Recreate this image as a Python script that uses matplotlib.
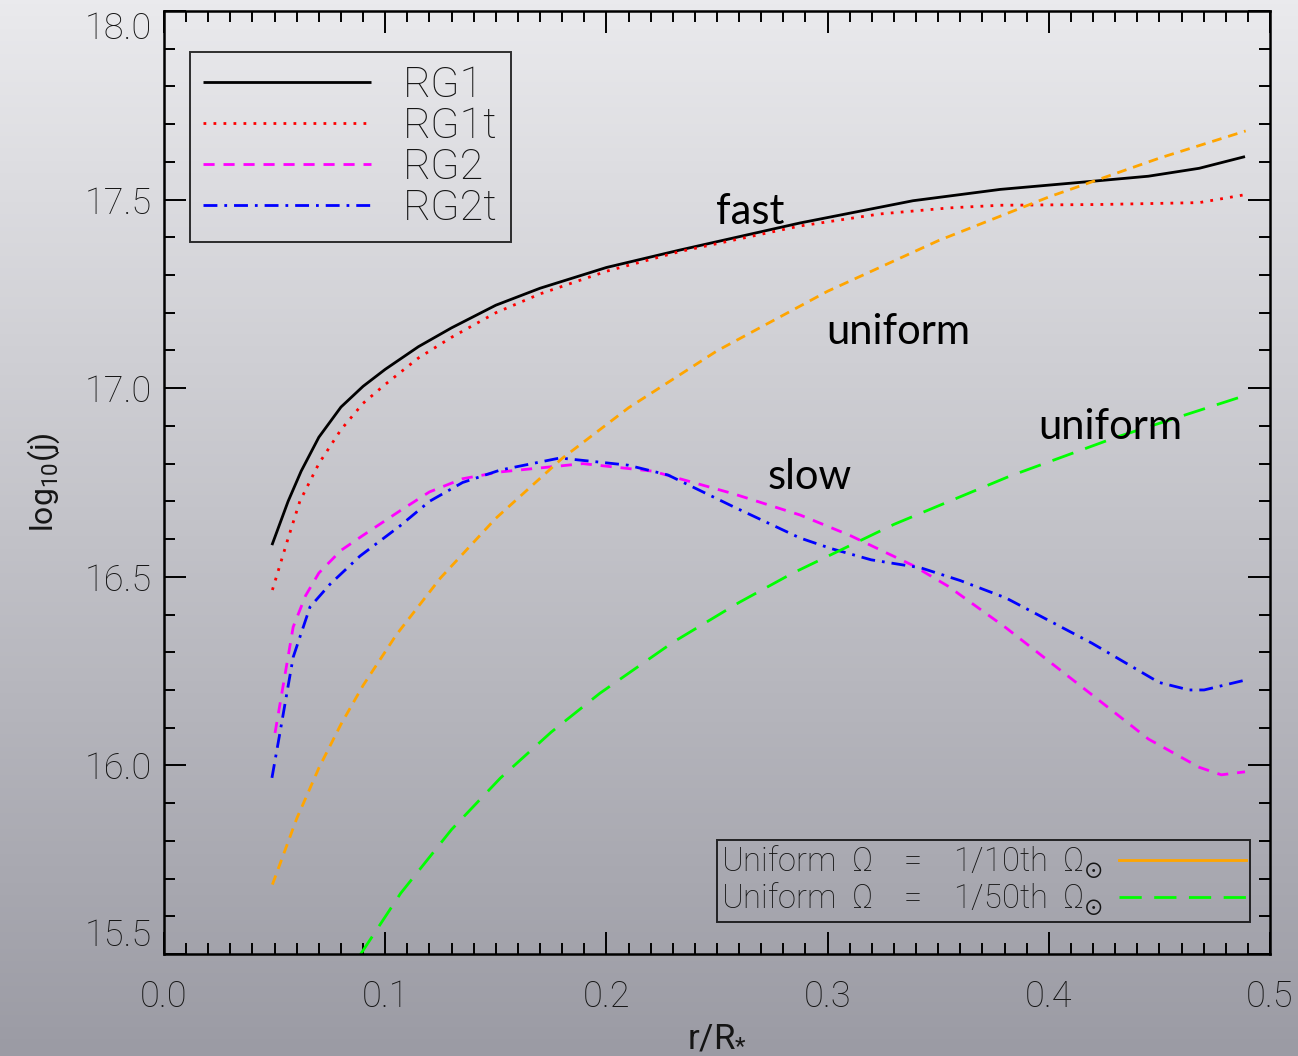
import numpy as np
import matplotlib
matplotlib.use("Agg")
import matplotlib.pyplot as plt
from matplotlib.lines import Line2D
from matplotlib.ticker import FixedLocator, MultipleLocator

# values (x = r/R*, y = log10 j)
rg1_x = [0.0488, 0.0561, 0.062, 0.070, 0.080, 0.090, 0.100, 0.115, 0.130, 0.150,
         0.170, 0.200, 0.233, 0.2875, 0.3386, 0.378, 0.4186, 0.445, 0.468, 0.4887]
rg1_y = [16.584, 16.70, 16.78, 16.87, 16.95, 17.005, 17.05, 17.11, 17.16, 17.22,
         17.265, 17.32, 17.366, 17.438, 17.497, 17.527, 17.548, 17.562, 17.583, 17.614]

rg1t_x = [0.049, 0.056, 0.0614, 0.070, 0.080, 0.090, 0.100, 0.115, 0.130, 0.150,
          0.170, 0.200, 0.233, 0.2875, 0.3237, 0.355, 0.378, 0.423, 0.468, 0.4877]
rg1t_y = [16.465, 16.60, 16.70, 16.80, 16.89, 16.96, 17.01, 17.08, 17.135, 17.20,
          17.25, 17.31, 17.362, 17.43, 17.462, 17.478, 17.485, 17.487, 17.492, 17.512]

rg2_x = [0.0502, 0.0584, 0.064, 0.070, 0.080, 0.090, 0.1067, 0.120, 0.135, 0.152,
         0.1894, 0.221, 0.2575, 0.2875, 0.310, 0.3386, 0.3545, 0.3806, 0.420, 0.445,
         0.468, 0.478, 0.4887]
rg2_y = [16.086, 16.367, 16.45, 16.51, 16.57, 16.61, 16.675, 16.725, 16.76, 16.778,
         16.80, 16.78, 16.72, 16.664, 16.61, 16.53, 16.475, 16.365, 16.185, 16.07,
         15.995, 15.975, 15.983]

rg2t_x = [0.0488, 0.0524, 0.0584, 0.066, 0.075, 0.0886, 0.1067, 0.120, 0.135, 0.152,
          0.179, 0.2097, 0.2278, 0.2577, 0.2875, 0.3015, 0.3197, 0.342, 0.360, 0.3806,
          0.4195, 0.4498, 0.4634, 0.4702, 0.4887]
rg2t_y = [15.967, 16.086, 16.287, 16.42, 16.48, 16.555, 16.635, 16.70, 16.75, 16.783,
          16.815, 16.796, 16.77, 16.685, 16.603, 16.575, 16.545, 16.524, 16.49, 16.444,
          16.324, 16.22, 16.20, 16.20, 16.226]

uni10_x = [0.049, 0.060, 0.070, 0.080, 0.090, 0.105, 0.125, 0.150, 0.180, 0.210,
           0.250, 0.300, 0.350, 0.400, 0.450, 0.489]
uni10_y = [15.684, 15.859, 15.993, 16.109, 16.212, 16.346, 16.497, 16.655, 16.814, 16.948,
           17.099, 17.257, 17.391, 17.507, 17.610, 17.682]

uni50_x = [0.0886, 0.107, 0.130, 0.152, 0.175, 0.197, 0.230, 0.260, 0.284, 0.330,
           0.382, 0.430, 0.489]
uni50_y = [15.497, 15.661, 15.830, 15.966, 16.088, 16.191, 16.326, 16.432, 16.509, 16.639,
           16.766, 16.869, 16.981]

series_labels = ["RG1", "RG1t", "RG2", "RG2t"]
uniform_labels = [r"Uniform  $\Omega$    =    1/10th  $\Omega_{\odot}$",
                  r"Uniform  $\Omega$    =    1/50th  $\Omega_{\odot}$"]
yticks = [15.5, 16.0, 16.5, 17.0, 17.5, 18.0]
xticks = [0.0, 0.1, 0.2, 0.3, 0.4, 0.5]

plt.rcParams['font.family'] = ['Roboto', 'DejaVu Sans']
plt.rcParams['font.weight'] = 'light'
plt.rcParams['mathtext.default'] = 'regular'
TXT = '#151515'

W, H = 1298, 1056
fig = plt.figure(figsize=(W / 100, H / 100), dpi=100)

# grey gradient background
bg = fig.add_axes([0, 0, 1, 1], zorder=-10)
top = np.array([234, 234, 237]) / 255.0
bot = np.array([155, 155, 164]) / 255.0
t = np.linspace(0, 1, 256)[:, None]
grad = top[None, :] * (1 - t) + bot[None, :] * t
bg.imshow(grad[:, None, :], aspect='auto', extent=[0, 1, 0, 1])
bg.axis('off')

ax = fig.add_axes([164 / W, 1 - 954 / H, 1106 / W, 943 / H])
ax.patch.set_alpha(0)

lw = 2.0
ax.plot(rg1_x, rg1_y, color='black', lw=lw, solid_capstyle='butt', label=series_labels[0])
ax.plot(rg1t_x, rg1t_y, color='red', lw=lw, linestyle=(0, (1, 2.6)), label=series_labels[1])
ax.plot(rg2_x, rg2_y, color='magenta', lw=lw, linestyle=(0, (4, 3.2)), label=series_labels[2])
ax.plot(rg2t_x, rg2t_y, color='blue', lw=lw, linestyle=(0, (5, 2.5, 1, 2.5)), label=series_labels[3])
ax.plot(uni10_x, uni10_y, color='orange', lw=lw, linestyle=(0, (3.5, 2.5)))
ax.plot(uni50_x, uni50_y, color='lime', lw=lw, linestyle=(0, (8, 4.5)))

ax.set_xlim(0, 0.5)
ax.set_ylim(15.5, 18.0)
ax.xaxis.set_major_locator(FixedLocator(xticks))
ax.yaxis.set_major_locator(FixedLocator(yticks))
ax.xaxis.set_minor_locator(MultipleLocator(0.01))
ax.yaxis.set_minor_locator(MultipleLocator(0.1))
ax.set_xticklabels([f"{v:.1f}" for v in xticks])
ax.set_yticklabels([f"{v:.1f}" for v in yticks])
ax.tick_params(which='both', direction='in', top=True, right=True, width=1.4,
               colors='black', labelcolor=TXT, labelsize=26)
ax.tick_params(which='major', length=16)
ax.tick_params(which='minor', length=8)
ax.tick_params(axis='x', pad=18)
ax.tick_params(axis='y', pad=9)
for s in ax.spines.values():
    s.set_linewidth(1.8)

ax.set_xlabel(r"r/R$_{*}$", fontsize=25, color=TXT, labelpad=4)
ax.set_ylabel(r"log$_{10}$(j)", fontsize=23, color=TXT, labelpad=16)

# annotations
ann = dict(fontsize=30, family='Lato', fontweight='normal', ha='center', va='center', color='black')
ax.text(0.2649, 17.467, "fast", **ann)
ax.text(0.3318, 17.149, "uniform", **ann)
ax.text(0.4277, 16.897, "uniform", **ann)
ax.text(0.2920, 16.765, "slow", **ann)

leg1 = ax.legend(loc='upper left', bbox_to_anchor=(0.0235, 0.9565), borderaxespad=0,
                 fontsize=31, handlelength=3.9, handletextpad=0.75, labelspacing=0.0,
                 borderpad=0.3, fancybox=False, edgecolor='black')
leg1.get_frame().set_linewidth(1.4)
leg1.get_frame().set_facecolor('none')
for txt in leg1.get_texts():
    txt.set_color(TXT)
ax.add_artist(leg1)

uh = [Line2D([], [], color='orange', lw=lw),
      Line2D([], [], color='lime', lw=lw, linestyle=(0, (8, 4.5)))]
leg2 = ax.legend(uh, uniform_labels, loc='lower right', bbox_to_anchor=(0.982, 0.034),
                 borderaxespad=0, fontsize=23.5, markerfirst=False, handlelength=3.9,
                 handletextpad=0.5, labelspacing=0.0, borderpad=0.12, fancybox=False,
                 edgecolor='black')
leg2.get_frame().set_linewidth(1.4)
leg2.get_frame().set_facecolor('none')
for txt in leg2.get_texts():
    txt.set_color(TXT)

fig.canvas.draw()
yt = ax.yaxis.get_major_ticks()
yt[0].label1.set_va('bottom')
yt[-1].label1.set_va('top')

fig.savefig("out.png", dpi=100)
